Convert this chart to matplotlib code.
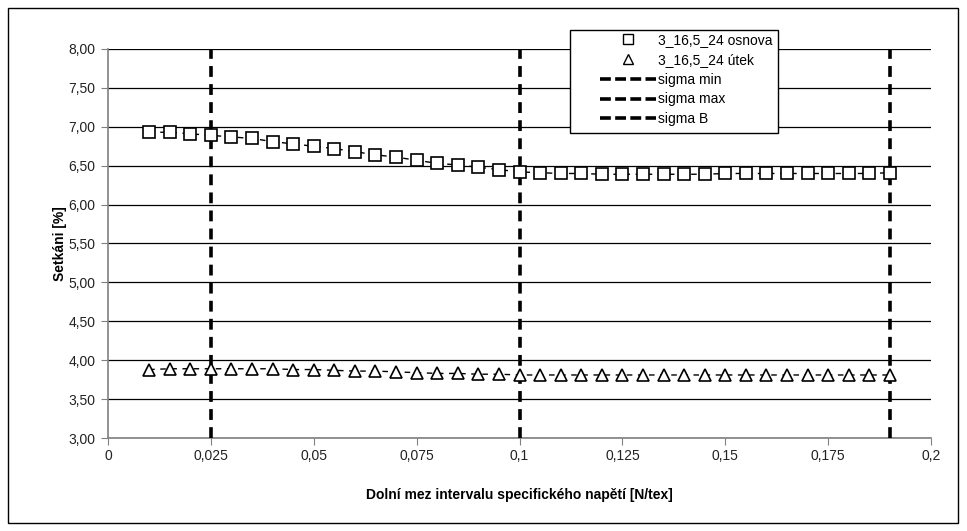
import matplotlib
matplotlib.use("Agg")
import matplotlib.pyplot as plt
import numpy as np
from matplotlib.lines import Line2D
from matplotlib.patches import Rectangle
from matplotlib.ticker import FuncFormatter, MultipleLocator

plt.rcParams["font.family"] = ["Liberation Sans", "DejaVu Sans"]

# ---------------------------------------------------------------------------
# Data
# ---------------------------------------------------------------------------
x_vals = [0.010, 0.015, 0.020, 0.025, 0.030, 0.035, 0.040, 0.045, 0.050,
          0.055, 0.060, 0.065, 0.070, 0.075, 0.080, 0.085, 0.090, 0.095,
          0.100, 0.105, 0.110, 0.115, 0.120, 0.125, 0.130, 0.135, 0.140,
          0.145, 0.150, 0.155, 0.160, 0.165, 0.170, 0.175, 0.180, 0.185,
          0.190]

osnova = [6.93, 6.93, 6.91, 6.89, 6.87, 6.85, 6.81, 6.78, 6.75,
          6.72, 6.68, 6.64, 6.61, 6.57, 6.53, 6.51, 6.48, 6.45,
          6.42, 6.41, 6.40, 6.40, 6.39, 6.39, 6.39, 6.39, 6.39,
          6.39, 6.40, 6.40, 6.40, 6.40, 6.40, 6.40, 6.40, 6.40,
          6.41]

utek = [3.88, 3.89, 3.89, 3.89, 3.89, 3.89, 3.89, 3.88, 3.88,
        3.87, 3.86, 3.86, 3.85, 3.84, 3.83, 3.83, 3.82, 3.82,
        3.81, 3.81, 3.81, 3.81, 3.81, 3.81, 3.81, 3.81, 3.81,
        3.81, 3.81, 3.81, 3.81, 3.81, 3.81, 3.81, 3.81, 3.81,
        3.81]

sigma_names = ["sigma min", "sigma max", "sigma B"]
sigma_x = [0.025, 0.1, 0.19]

series_names = ["3_16,5_24 osnova", "3_16,5_24 útek"]


def comma(fmt):
    return FuncFormatter(lambda v, pos: fmt(v).replace(".", ","))


W, H = 967, 531
fig = plt.figure(figsize=(W / 100, H / 100), dpi=100)
ax = fig.add_axes([108 / W, 1 - 438 / H, (931 - 108) / W, (438 - 49) / H])

# series
ax.plot(x_vals, osnova, color="black", lw=1.0, linestyle=(0, (4, 4)),
        marker="s", ms=8.5, mfc="white", mec="black", mew=1.2, zorder=4)
ax.plot(x_vals, utek, color="black", lw=1.0, linestyle=(0, (4, 4)),
        marker="^", ms=8, mfc="white", mec="black", mew=1.2, zorder=4)

# vertical sigma lines
for xv in sigma_x:
    ax.plot([xv, xv], [3.0, 8.0], color="black", lw=2.6,
            linestyle=(0, (3, 2)), zorder=3, clip_on=False)

ax.set_xlim(0, 0.2)
ax.set_ylim(3.0, 8.0)
ax.xaxis.set_major_locator(MultipleLocator(0.025))
ax.yaxis.set_major_locator(MultipleLocator(0.5))


def xfmt(v):
    if abs(v) < 1e-9:
        return "0"
    return ("%.3f" % v).rstrip("0")


ax.xaxis.set_major_formatter(comma(xfmt))
ax.yaxis.set_major_formatter(comma(lambda v: "%.2f" % v))

ax.grid(axis="y", color="black", lw=0.9)
ax.set_axisbelow(True)
for s in ["top", "right"]:
    ax.spines[s].set_visible(False)
for s in ["left", "bottom"]:
    ax.spines[s].set_color("#808080")
    ax.spines[s].set_linewidth(1.2)
ax.tick_params(axis="both", direction="out", length=5, color="#808080",
               labelsize=10, labelcolor="#222222")
ax.tick_params(axis="y", pad=4)
ax.tick_params(axis="x", pad=3)

ax.set_xlabel("Dolní mez intervalu specifického napětí [N/tex]",
              fontsize=10, fontweight="bold", labelpad=18)
ax.set_ylabel("Setkáni [%]", fontsize=10, fontweight="bold", labelpad=1)

# legend (frame drawn separately to get the wide left margin)
handles = [
    Line2D([], [], linestyle="none", marker="s", ms=7, mfc="white",
           mec="black", mew=1.0),
    Line2D([], [], linestyle="none", marker="^", ms=7, mfc="white",
           mec="black", mew=1.0),
]
for _ in sigma_names:
    handles.append(Line2D([], [], color="black", lw=2.6, linestyle=(0, (3, 1.2))))
leg = fig.legend(handles, series_names + sigma_names,
                 loc="upper left", bbox_to_anchor=(600 / W, 1 - 33 / H),
                 fontsize=10, frameon=False, handlelength=4.0,
                 handletextpad=0.15, labelspacing=0.42, borderpad=0.0,
                 borderaxespad=0)
fig.patches.append(Rectangle((570 / W, 1 - 133 / H), 208 / W, 103 / H,
                             transform=fig.transFigure, facecolor="white",
                             edgecolor="black", lw=1.0, zorder=5))
leg.set_zorder(6)

# outer border
fig.patches.append(Rectangle((8 / W, 8 / H), 950 / W, 515 / H,
                             transform=fig.transFigure, fill=False,
                             edgecolor="black", lw=1.0))

fig.savefig("out.png", dpi=100)
